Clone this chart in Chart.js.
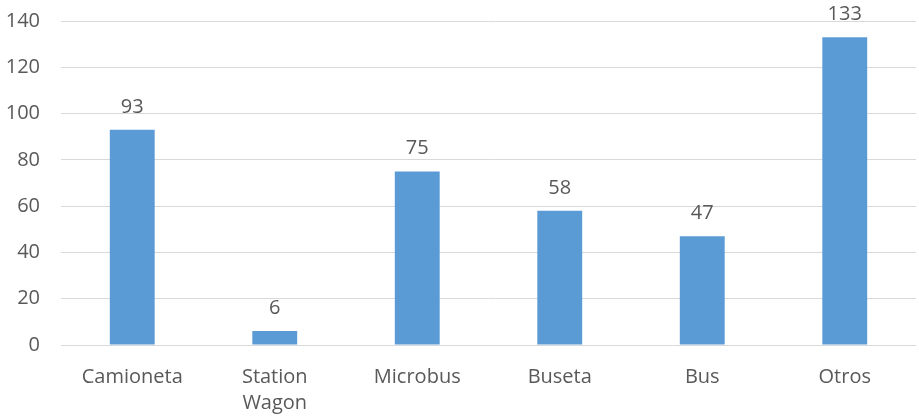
<!DOCTYPE html>
<html>
<head>
<meta charset="utf-8">
<script src="https://cdn.jsdelivr.net/npm/chart.js@4"></script>
<style>
    html, body { margin: 0; padding: 0; background: #ffffff; }
    #wrap { width: 919px; height: 417px; }
</style>
</head>
<body>
<div id="wrap"><canvas id="barChart" width="919" height="417"></canvas></div>
<script>
const categories = ['Camioneta', ['Station', 'Wagon'], 'Microbus', 'Buseta', 'Bus', 'Otros'];
const values = [93, 6, 75, 58, 47, 133];
const yTicks = [0, 20, 40, 60, 80, 100, 120, 140];

const textColor = '#595959';
const fontFamily = "'Open Sans', 'Liberation Sans', sans-serif";

// labels above each bar
const valueLabels = {
    id: 'valueLabels',
    afterDatasetsDraw(chart) {
        const ctx = chart.ctx;
        const meta = chart.getDatasetMeta(0);
        ctx.save();
        ctx.fillStyle = textColor;
        ctx.font = '20px ' + fontFamily;
        ctx.textAlign = 'center';
        ctx.textBaseline = 'alphabetic';
        meta.data.forEach((bar, i) => {
            ctx.fillText(values[i], bar.x, bar.y - 17);
        });
        ctx.restore();
    }
};

const ctx = document.getElementById('barChart').getContext('2d');
new Chart(ctx, {
    type: 'bar',
    data: {
        labels: categories,
        datasets: [{
            data: values,
            backgroundColor: '#5B9BD5',
            borderWidth: 0,
            categoryPercentage: 1,
            barPercentage: 0.315
        }]
    },
    options: {
        responsive: false,
        animation: false,
        layout: { padding: { top: 21, right: 3, left: 0, bottom: 0 } },
        plugins: {
            legend: { display: false },
            tooltip: { enabled: false }
        },
        scales: {
            x: {
                grid: { display: false, drawTicks: false },
                border: { display: false },
                ticks: {
                    color: textColor,
                    font: { size: 20, family: fontFamily, lineHeight: 1.3 },
                    padding: 19,
                    maxRotation: 0
                },
                afterFit(scale) { scale.height = 72; }
            },
            y: {
                min: 0,
                max: 140,
                afterBuildTicks(scale) {
                    scale.ticks = yTicks.map(v => ({ value: v }));
                },
                grid: { color: '#d9d9d9', lineWidth: 1, drawTicks: false },
                border: { display: false },
                ticks: {
                    color: textColor,
                    font: { size: 20, family: fontFamily },
                    padding: 21
                },
                afterFit(scale) {
                    scale.width = 61;
                    scale.paddingTop = 0;
                    scale.paddingBottom = 0;
                }
            }
        }
    },
    plugins: [valueLabels]
});
</script>
</body>
</html>
